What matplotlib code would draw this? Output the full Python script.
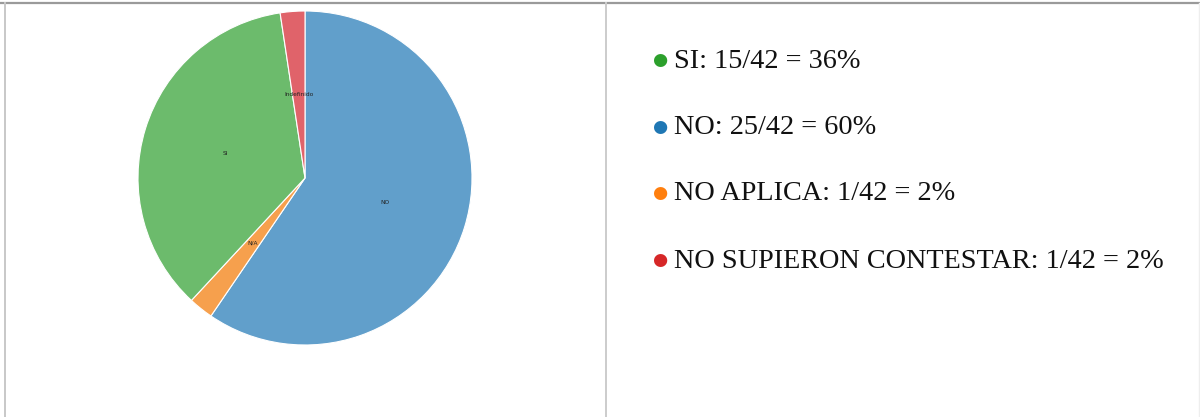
import matplotlib
matplotlib.use("Agg")
import matplotlib.pyplot as plt
from matplotlib.lines import Line2D

# Data
slice_labels = ["NO", "N/A", "SI", "Indefinido"]
slice_values = [25, 1, 15, 1]
slice_colors = ["#619fcb", "#f6a04d", "#6cbb6c", "#e0636a"]

legend_texts = ["SI: 15/42 = 36%", "NO: 25/42 = 60%", "NO APLICA: 1/42 = 2%",
                "NO SUPIERON CONTESTAR: 1/42 = 2%"]
legend_dot_colors = ["#2ca02c", "#1f77b4", "#ff7f0e", "#d62728"]

W, H = 1200, 417
fig = plt.figure(figsize=(W / 100, H / 100), dpi=100)
fig.patch.set_facecolor("white")

def fx(x):
    return x / W

def fy(y):
    return 1 - y / H

# Frame lines
fig.add_artist(Line2D([0, 1], [fy(3), fy(3)], color="#9a9a9a", lw=1.6))
fig.add_artist(Line2D([fx(5), fx(5)], [fy(3), 0], color="#c8c8c8", lw=1.4))
fig.add_artist(Line2D([fx(606), fx(606)], [fy(3), 0], color="#cccccc", lw=1.4))
fig.add_artist(Line2D([fx(1199), fx(1199)], [fy(3), 0], color="#eeeeee", lw=1.0))

# Pie
cx, cy, r = 305, 178, 167
ax = fig.add_axes([fx(cx - r), fy(cy + r), 2 * r / W, 2 * r / H])
wedges, texts = ax.pie(slice_values, labels=slice_labels, colors=slice_colors,
                       startangle=90, counterclock=False, labeldistance=0.5,
                       wedgeprops=dict(edgecolor="white", linewidth=0.8),
                       textprops=dict(fontsize=4.2, color="#222222", ha="center", va="center"))
ax.set_xlim(-1, 1)
ax.set_ylim(-1, 1)
ax.set_aspect("equal")
ax.axis("off")

# Legend-like text
rows_y = [60, 127, 193, 260]
for y, t, c in zip(rows_y, legend_texts, legend_dot_colors):
    fig.text(fx(660), fy(y), "\u25CF", color=c, fontsize=12.5, ha="center", va="center",
             family="DejaVu Sans")
    fig.text(fx(674), fy(y + 1), t, color="#111111", fontsize=20.3, ha="left", va="center",
             family="Liberation Serif")

fig.savefig("out.png", dpi=100, facecolor="white")
